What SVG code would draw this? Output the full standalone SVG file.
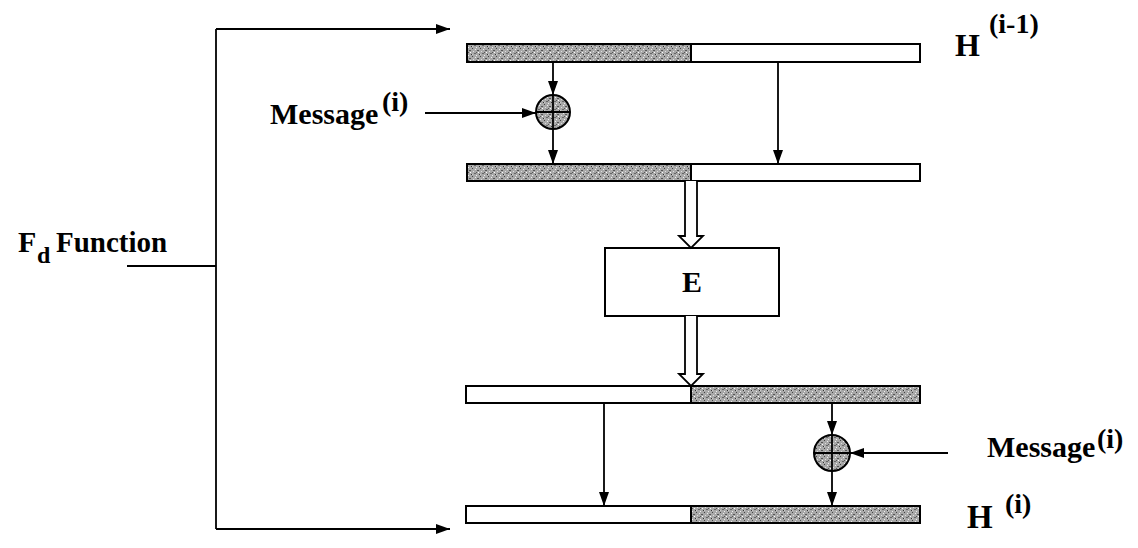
<svg xmlns="http://www.w3.org/2000/svg" width="1138" height="548" viewBox="0 0 1138 548">
<style>
.ln{stroke:#000;stroke-width:1.8;fill:none}
.bar{stroke:#000;stroke-width:2}
.w{fill:#fff}
.s{fill:url(#stip)}
text{font-family:'Liberation Serif','Times New Roman','DejaVu Serif',serif;font-weight:700;fill:#000}
</style>
<defs>
<pattern id="stip" width="8" height="8" patternUnits="userSpaceOnUse">
<rect width="8" height="8" fill="#a8a8a8"/>
<rect x="0" y="0" width="1" height="1" fill="#444"/>
<rect x="3" y="1" width="1" height="1" fill="#eee"/>
<rect x="5" y="2" width="2" height="1" fill="#555"/>
<rect x="1" y="3" width="1" height="1" fill="#ddd"/>
<rect x="6" y="4" width="1" height="1" fill="#fff"/>
<rect x="2" y="5" width="2" height="1" fill="#666"/>
<rect x="7" y="6" width="1" height="1" fill="#333"/>
<rect x="4" y="7" width="1" height="1" fill="#eee"/>
<rect x="0" y="6" width="1" height="1" fill="#ccc"/>
<rect x="4" y="4" width="1" height="1" fill="#555"/>
</pattern>
<marker id="ah" viewBox="0 0 14 10" refX="14" refY="5" markerWidth="14" markerHeight="10" markerUnits="userSpaceOnUse" orient="auto">
<path d="M0,0 L14,5 L0,10 z" fill="#000"/>
</marker>
</defs>

<g id="bar-h-prev">
<rect class="bar s" x="467" y="44" width="224" height="18"/>
<rect class="bar w" x="691" y="44" width="229" height="18"/>
</g>
<g id="bar-mid1">
<rect class="bar s" x="467" y="164" width="224" height="17"/>
<rect class="bar w" x="691" y="164" width="229" height="17"/>
</g>
<g id="bar-mid2">
<rect class="bar w" x="466" y="386" width="225" height="17"/>
<rect class="bar s" x="691" y="386" width="229" height="17"/>
</g>
<g id="bar-h">
<rect class="bar w" x="466" y="506" width="225" height="17"/>
<rect class="bar s" x="691" y="506" width="229" height="17"/>
</g>

<g id="xor1">
<circle cx="553" cy="112" r="17" class="bar s"/>
<path class="ln" d="M536,112 H570 M553,95 V129"/>
</g>
<g id="xor2">
<circle cx="832" cy="453" r="18" class="bar s"/>
<path class="ln" d="M814,453 H850 M832,435 V471"/>
</g>

<g id="E">
<rect x="605" y="248" width="174" height="68" fill="#fff" stroke="#000" stroke-width="2"/>
<text x="692" y="292" font-size="30" text-anchor="middle">E</text>
</g>

<g id="connectors">
<path class="ln" d="M127,266 H216"/>
<path class="ln" d="M216,29 V529"/>
<path class="ln" d="M216,29 H450" marker-end="url(#ah)"/>
<path class="ln" d="M216,529 H450" marker-end="url(#ah)"/>
<path class="ln" d="M553,62 V95" marker-end="url(#ah)"/>
<path class="ln" d="M553,129 V164" marker-end="url(#ah)"/>
<path class="ln" d="M778,62 V164" marker-end="url(#ah)"/>
<path class="ln" d="M425,113 H536" marker-end="url(#ah)"/>
<path class="ln" d="M604,403 V506" marker-end="url(#ah)"/>
<path class="ln" d="M832,403 V435" marker-end="url(#ah)"/>
<path class="ln" d="M832,471 V506" marker-end="url(#ah)"/>
<path class="ln" d="M948,453 H850" marker-end="url(#ah)"/>
<path d="M685,181 V236 H679 L691,248 L703,236 H697 V181" fill="#fff" stroke="#000" stroke-width="1.8"/>
<path d="M685,316 V374 H679 L691,386 L703,374 H697 V316" fill="#fff" stroke="#000" stroke-width="1.8"/>
</g>

<g id="labels">
<text x="18" y="252" font-size="30">F</text>
<text x="37" y="263" font-size="24">d</text>
<text x="56" y="252" font-size="29">Function</text>
<text x="270" y="124" font-size="30">Message</text>
<text x="382" y="111" font-size="28">(i)</text>
<text x="987" y="457" font-size="30">Message</text>
<text x="1097" y="448" font-size="28">(i)</text>
<text x="955" y="56" font-size="32">H</text>
<text x="989" y="33" font-size="28">(i-1)</text>
<text x="967" y="528" font-size="33">H</text>
<text x="1005" y="513" font-size="28">(i)</text>
</g>
</svg>
